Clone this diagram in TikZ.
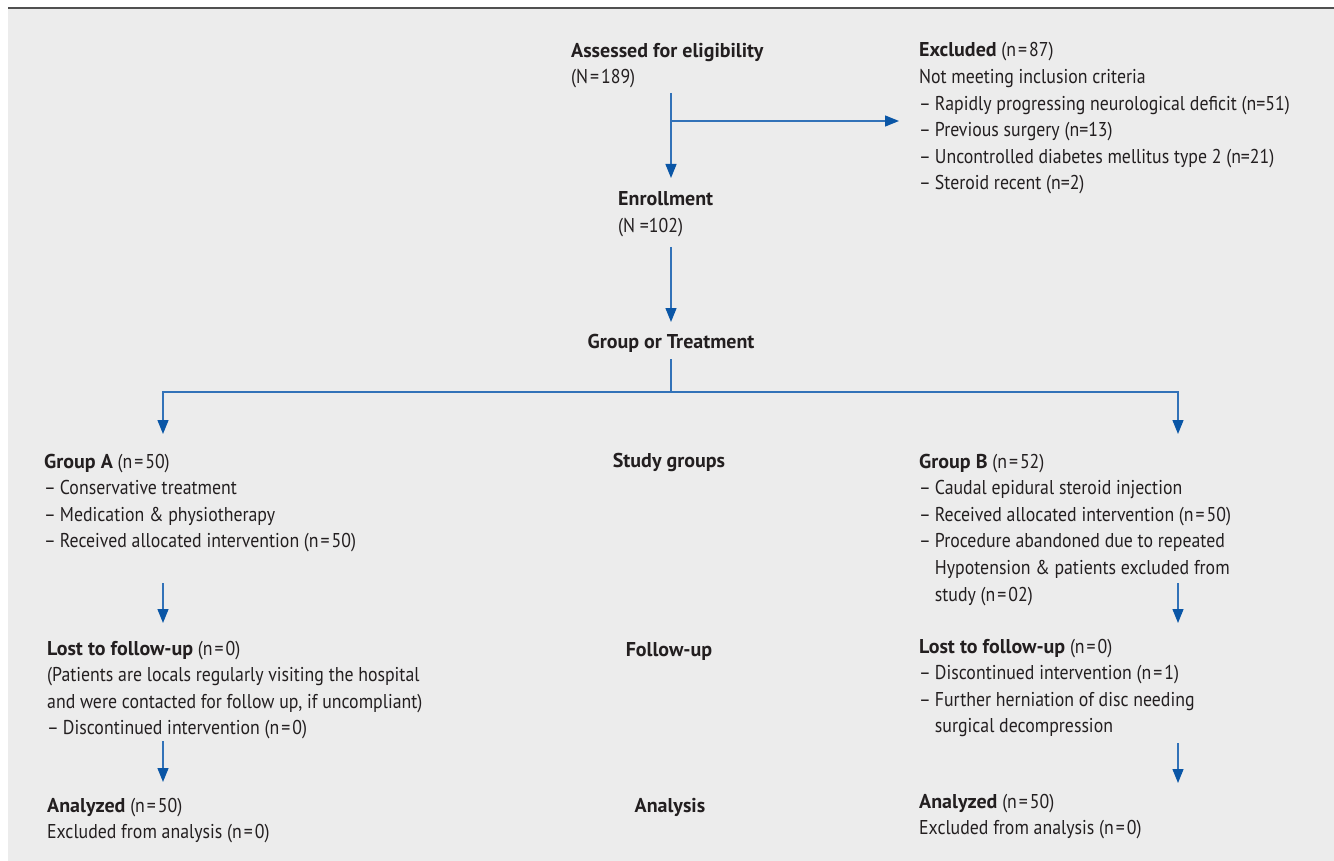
\documentclass[tikz,border=0pt]{standalone}
\usepackage{fontspec}
\setmainfont{PT Sans}[UprightFeatures={FakeStretch=0.89},BoldFeatures={FakeStretch=1.0}]
\usetikzlibrary{arrows.meta}
\definecolor{bg}{RGB}{236,236,236}
\definecolor{ln}{RGB}{50,114,184}
\definecolor{hd}{RGB}{10,86,166}
\definecolor{tx}{RGB}{35,31,32}
\definecolor{rulec}{RGB}{80,80,80}
\newcommand{\dsh}{–\kern4pt}
\newcommand{\ind}{\phantom{\dsh}}
\newcommand{\eq}{\kern2pt=\kern2pt}
\begin{document}
\begin{tikzpicture}[x=1pt,y=-1pt,
  txt/.style={anchor=base west,inner sep=0pt,align=left,text=tx,font=\fontsize{20}{26.6}\selectfont},
  lbl/.style={anchor=base,inner sep=0pt,text=tx,font=\fontsize{20}{26.6}\selectfont\bfseries},
  flow/.style={draw=ln,line width=1.3pt,-{Triangle[width=11pt,length=14pt,color=hd]}},
  seg/.style={draw=ln,line width=1.3pt}]
\useasboundingbox (0,0) rectangle (1334,861);
\fill[bg] (8,8) rectangle (1334,861);
\draw[rulec,line width=1.5pt] (8,8) -- (1334,8);

% base anchor = baseline of the last line
\node[txt] (assess) at (571,84) {\textbf{Assessed for eligibility}\\(N\eq189)};
\node[txt] (excl) at (919,190) {\textbf{Excluded} (n\eq87)\\Not meeting inclusion criteria\\\dsh Rapidly progressing neurological deficit (n=51)\\\dsh Previous surgery (n=13)\\\dsh Uncontrolled diabetes mellitus type 2 (n=21)\\\dsh Steroid recent (n=2)};
\node[txt] (enroll) at (618,232.6) {\textbf{Enrollment}\\(N =102)};
\node[lbl] (treat) at (671,348) {Group or Treatment};
\node[lbl] (study) at (669,467) {Study groups};
\node[lbl] (fup) at (669,656) {Follow-up};
\node[lbl] (anal) at (670,812) {Analysis};

\node[txt] (ga) at (44,547.8) {\textbf{Group A} (n\eq50)\\\dsh Conservative treatment\\\dsh Medication \& physiotherapy\\\dsh Received allocated intervention (n\eq50)};
\node[txt] (gb) at (919,601) {\textbf{Group B} (n\eq52)\\\dsh Caudal epidural steroid injection\\\dsh Received allocated intervention (n\eq50)\\\dsh Procedure abandoned due to repeated\\\ind Hypotension \& patients excluded from\\\ind study (n\eq02)};
\node[txt] (la) at (47,734.8) {\textbf{Lost to follow-up} (n\eq0)\\(Patients are locals regularly visiting the hospital\\and were contacted for follow up, if uncompliant)\\\dsh Discontinued intervention (n\eq0)};
\node[txt] (lb) at (919,732.8) {\textbf{Lost to follow-up} (n\eq0)\\\dsh Discontinued intervention (n\eq1)\\\dsh Further herniation of disc needing\\\ind surgical decompression};
\node[txt] (aa) at (47,838.6) {\textbf{Analyzed} (n\eq50)\\Excluded from analysis (n\eq0)};
\node[txt] (ab) at (919,834.6) {\textbf{Analyzed} (n\eq50)\\Excluded from analysis (n\eq0)};

\coordinate (a0) at (671,93);
\coordinate (a1) at (671,178);
\coordinate (b0) at (671,121);
\coordinate (b1) at (899,121);
\coordinate (c0) at (671,247);
\coordinate (c1) at (671,322);
\coordinate (t0) at (671,359);
\coordinate (tj) at (671,392);
\coordinate (ta) at (163,434);
\coordinate (tb) at (1178,434);
\coordinate (l1s) at (163,583);
\coordinate (l1e) at (163,623);
\coordinate (l2s) at (163,741);
\coordinate (l2e) at (163,782);
\coordinate (r1s) at (1178,583);
\coordinate (r1e) at (1178,623);
\coordinate (r2s) at (1178,743);
\coordinate (r2e) at (1178,783);

\draw[flow] (a0) -- (a1);
\draw[flow] (b0) -- (b1);
\draw[flow] (c0) -- (c1);
\draw[seg] (t0) -- (tj);
\draw[flow] (tj) -| (ta);
\draw[flow] (tj) -| (tb);
\draw[flow] (l1s) -- (l1e);
\draw[flow] (l2s) -- (l2e);
\draw[flow] (r1s) -- (r1e);
\draw[flow] (r2s) -- (r2e);
\end{tikzpicture}
\end{document}
